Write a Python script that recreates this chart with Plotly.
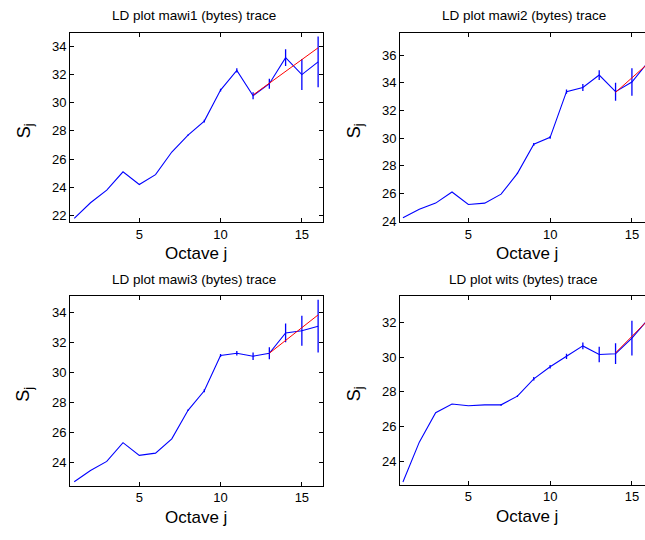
import plotly.graph_objects as go

octaves = list(range(1, 17))

titles = ["LD plot mawi1 (bytes) trace", "LD plot mawi2 (bytes) trace",
          "LD plot mawi3 (bytes) trace", "LD plot wits (bytes) trace"]

mawi1 = [21.8, 22.9, 23.8, 25.1, 24.2, 24.9, 26.5, 27.7, 28.7, 30.9, 32.3, 30.5, 31.35, 33.2, 32.0, 32.9]
mawi1_err = [0, 0, 0, 0, 0, 0, 0, 0.05, 0.1, 0.1, 0.15, 0.25, 0.35, 0.6, 1.1, 1.8]
mawi1_fit_x = [12, 16]
mawi1_fit_y = [30.55, 33.9]

mawi2 = [24.25, 24.85, 25.3, 26.1, 25.2, 25.3, 25.95, 27.45, 29.55, 30.05, 33.35, 33.65, 34.55, 33.35, 34.05, 35.5]
mawi2_err = [0, 0, 0, 0, 0, 0, 0, 0.05, 0.1, 0.1, 0.15, 0.25, 0.35, 0.65, 1.0, 1.5]
mawi2_fit_x = [14, 16]
mawi2_fit_y = [33.3, 35.4]

mawi3 = [22.75, 23.5, 24.1, 25.35, 24.5, 24.65, 25.6, 27.5, 28.8, 31.15, 31.3, 31.1, 31.3, 32.65, 32.8, 33.1]
mawi3_err = [0, 0, 0, 0, 0, 0, 0, 0.05, 0.1, 0.1, 0.15, 0.25, 0.4, 0.62, 1.0, 1.75]
mawi3_fit_x = [13, 16]
mawi3_fit_y = [31.3, 33.85]

wits = [22.8, 25.1, 26.8, 27.3, 27.2, 27.25, 27.25, 27.75, 28.75, 29.45, 30.05, 30.65, 30.15, 30.2, 31.1, 32.2]
wits_err = [0, 0, 0, 0, 0, 0, 0.05, 0.05, 0.1, 0.1, 0.15, 0.2, 0.45, 0.6, 1.0, 1.5]
wits_fit_x = [14, 16]
wits_fit_y = [30.25, 32.15]

y_ranges = [[21.53, 34.98], [23.93, 37.62], [22.49, 35.1], [22.65, 33.52]]
x_ranges = [[0.74, 16.3], [0.82, 15.8], [0.74, 16.3], [0.82, 15.8]]
x_ticks = [5, 10, 15]

series = [(mawi1, mawi1_err, mawi1_fit_x, mawi1_fit_y),
          (mawi2, mawi2_err, mawi2_fit_x, mawi2_fit_y),
          (mawi3, mawi3_err, mawi3_fit_x, mawi3_fit_y),
          (wits, wits_err, wits_fit_x, wits_fit_y)]

W, H = 645, 540
# pixel boxes: (left, right, top, bottom)
boxes = [(70, 323, 33, 225), (400, 645, 33, 225), (70, 323, 300, 492), (400, 645, 300, 491)]

fig = go.Figure()
font = "Liberation Sans, Arial, sans-serif"

for i, (vals, err, fx, fy) in enumerate(series):
    n = "" if i == 0 else str(i + 1)
    xa, ya = "x" + n, "y" + n
    fig.add_trace(go.Scatter(x=octaves, y=vals, mode="lines", xaxis=xa, yaxis=ya,
                             line=dict(color="#0000ff", width=1.1),
                             error_y=dict(type="data", array=err, visible=True,
                                          color="#0000ff", thickness=1.3, width=0),
                             showlegend=False))
    fig.add_trace(go.Scatter(x=fx, y=fy, mode="lines", xaxis=xa, yaxis=ya,
                             line=dict(color="#ff0000", width=1), showlegend=False))

    l, r, t, b = boxes[i]
    right_panel = i in (1, 3)
    axcommon = dict(showgrid=False, zeroline=False, showline=True, linecolor="black",
                    linewidth=1, ticks="inside", ticklen=4, tickcolor="black",
                    tickfont=dict(family=font, size=13, color="black"))
    fig.layout["xaxis" + n] = dict(domain=[l / W, r / W], range=x_ranges[i],
                                   tickvals=x_ticks, anchor=ya, mirror="ticks",
                                   **axcommon)
    fig.layout["yaxis" + n] = dict(domain=[1 - b / H, 1 - t / H], range=y_ranges[i],
                                   dtick=2, anchor=xa,
                                   mirror=False if right_panel else "ticks",
                                   **axcommon)
    cx = (l + (323 if not right_panel else 653)) / 2
    fig.add_annotation(text=titles[i], x=(cx - 3) / W, y=1 - (t - 17) / H, xref="paper", yref="paper",
                       showarrow=False, font=dict(family=font, size=13.5, color="black"),
                       xanchor="center", yanchor="middle")
    fig.add_annotation(text="Octave j", x=cx / W, y=1 - (b + 32) / H, xref="paper", yref="paper",
                       showarrow=False, font=dict(family=font, size=17, color="black"),
                       xanchor="center", yanchor="middle")
    fig.add_annotation(text="S<sub>j</sub>", x=(l - 45) / W, y=1 - ((t + b) / 2 + 4) / H,
                       xref="paper", yref="paper", textangle=-90,
                       showarrow=False, font=dict(family=font, size=18, color="black"),
                       xanchor="center", yanchor="middle")

fig.update_layout(width=W, height=H, margin=dict(l=0, r=0, t=0, b=0),
                  plot_bgcolor="white", paper_bgcolor="white")

fig.write_html("out.html")
